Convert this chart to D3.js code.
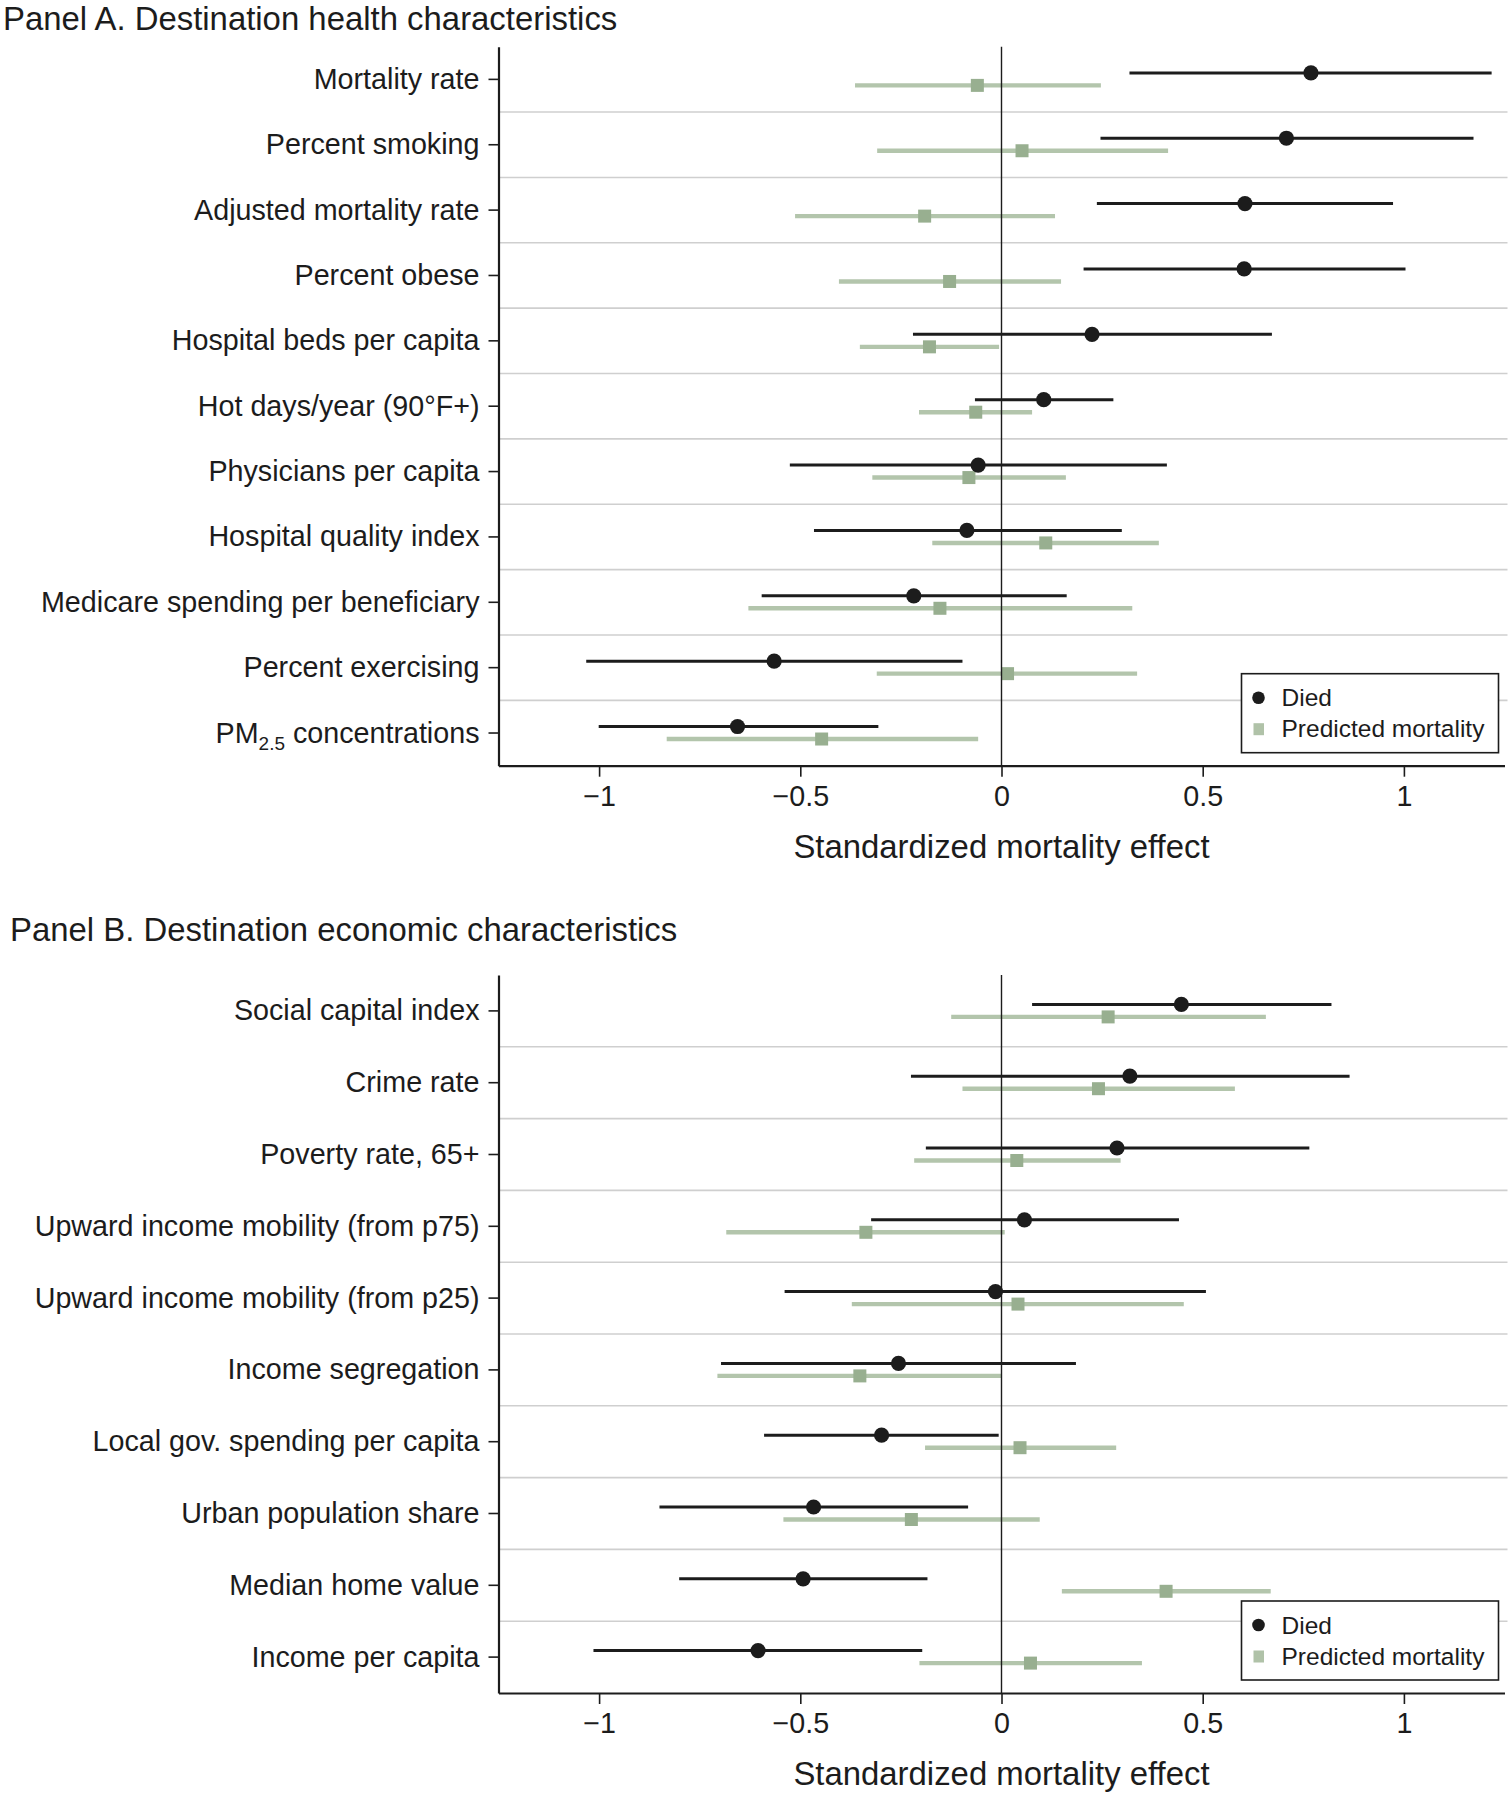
<!DOCTYPE html>
<html>
<head>
<meta charset="utf-8">
<script src="https://cdn.jsdelivr.net/npm/d3@7"></script>
<style>
  html, body { margin: 0; padding: 0; background: #fff; }
  svg { display: block; font-family: "Liberation Sans", Arial, Helvetica, sans-serif; }
</style>
</head>
<body>
<svg id="chart" width="1510" height="1800"></svg>
<script>
// ---------------- DATA ----------------
const healthCats = [
  "Mortality rate", "Percent smoking", "Adjusted mortality rate", "Percent obese",
  "Hospital beds per capita", "Hot days/year (90°F+)", "Physicians per capita",
  "Hospital quality index", "Medicare spending per beneficiary", "Percent exercising",
  "PM2.5 concentrations"
];
const healthDied   = [0.769, 0.708, 0.605, 0.603, 0.225, 0.105, -0.058, -0.086, -0.218, -0.565, -0.656];
const healthDiedLo = [0.318, 0.246, 0.237, 0.204, -0.220, -0.066, -0.526, -0.466, -0.596, -1.032, -1.001];
const healthDiedHi = [1.218, 1.173, 0.973, 1.004, 0.672, 0.278, 0.411, 0.299, 0.162, -0.097, -0.306];
const healthPred   = [-0.060, 0.051, -0.191, -0.129, -0.179, -0.064, -0.081, 0.110, -0.153, 0.015, -0.447];
const healthPredLo = [-0.364, -0.309, -0.513, -0.404, -0.352, -0.205, -0.321, -0.172, -0.629, -0.310, -0.832];
const healthPredHi = [0.247, 0.414, 0.133, 0.148, -0.006, 0.076, 0.160, 0.391, 0.325, 0.337, -0.058];

const econCats = [
  "Social capital index", "Crime rate", "Poverty rate, 65+",
  "Upward income mobility (from p75)", "Upward income mobility (from p25)",
  "Income segregation", "Local gov. spending per capita", "Urban population share",
  "Median home value", "Income per capita"
];
const econDied   = [0.447, 0.319, 0.287, 0.057, -0.015, -0.256, -0.298, -0.467, -0.493, -0.605];
const econDiedLo = [0.076, -0.225, -0.188, -0.324, -0.539, -0.697, -0.590, -0.850, -0.801, -1.014];
const econDiedHi = [0.820, 0.865, 0.765, 0.441, 0.508, 0.185, -0.007, -0.083, -0.184, -0.197];
const econPred   = [0.265, 0.241, 0.038, -0.337, 0.041, -0.352, 0.046, -0.224, 0.409, 0.072];
const econPredLo = [-0.125, -0.097, -0.217, -0.684, -0.372, -0.706, -0.190, -0.542, 0.150, -0.204];
const econPredHi = [0.657, 0.580, 0.296, 0.008, 0.453, 0.000, 0.285, 0.095, 0.669, 0.349];

const xTicks = [-1, -0.5, 0, 0.5, 1];
const xDomain = [-1.25, 1.25];
const axisTitle = "Standardized mortality effect";
const legendLabels = ["Died", "Predicted mortality"];
const panelTitles = ["Panel A. Destination health characteristics", "Panel B. Destination economic characteristics"];

// ---------------- STYLE ----------------
const INK = "#1c1c1c";
const PRED_LINE = "#b3c5ac";
const PRED_SQ = "#98af90";
const LEG_SQ = "#b0c2a8";
const GRID = "#cfcfcf";
const FONT_LABEL = 28.7;
const FONT_TITLE = 32.9;
const FONT_LEG = 24.5;

const svg = d3.select("#chart");
const x = d3.scaleLinear().domain(xDomain).range([498.5, 1504.5]);

function drawPanel(cfg) {
  const { cats, died, diedLo, diedHi, pred, predLo, predHi, top, bottom, title, titleX, titleY } = cfg;
  const g = svg.append("g");
  const y = d3.scaleBand().domain(cats).range([top, bottom]).padding(0);
  const cy = c => y(c) + y.bandwidth() / 2;

  // title
  svg.append("text").attr("x", titleX).attr("y", titleY)
    .attr("font-size", FONT_TITLE).attr("fill", INK).text(title);

  // separators
  g.append("g").selectAll("line").data(cats.slice(1)).join("line")
    .attr("x1", x.range()[0]).attr("x2", x.range()[1] + 3)
    .attr("y1", c => y(c)).attr("y2", c => y(c))
    .attr("stroke", GRID).attr("stroke-width", 1.6);

  const rows = cats.map((c, i) => ({ c, d: died[i], dl: diedLo[i], dh: diedHi[i], p: pred[i], pl: predLo[i], ph: predHi[i] }));

  // predicted CIs
  g.append("g").selectAll("line").data(rows).join("line")
    .attr("x1", r => x(r.pl)).attr("x2", r => x(r.ph))
    .attr("y1", r => cy(r.c) + 6).attr("y2", r => cy(r.c) + 6)
    .attr("stroke", PRED_LINE).attr("stroke-width", 4.4);
  g.append("g").selectAll("rect").data(rows).join("rect")
    .attr("x", r => x(r.p) - 6.5).attr("y", r => cy(r.c) + 6 - 6.5)
    .attr("width", 13).attr("height", 13).attr("fill", PRED_SQ);

  // zero line
  g.append("line").attr("x1", x(0)).attr("x2", x(0)).attr("y1", top).attr("y2", bottom)
    .attr("stroke", INK).attr("stroke-width", 1.4);

  // died CIs
  g.append("g").selectAll("line").data(rows).join("line")
    .attr("x1", r => x(r.dl)).attr("x2", r => x(r.dh))
    .attr("y1", r => cy(r.c) - 6.5).attr("y2", r => cy(r.c) - 6.5)
    .attr("stroke", INK).attr("stroke-width", 3);
  g.append("g").selectAll("circle").data(rows).join("circle")
    .attr("cx", r => x(r.d)).attr("cy", r => cy(r.c) - 6.5).attr("r", 7.6)
    .attr("fill", INK);

  // left axis
  const ya = g.append("g").attr("transform", `translate(${x.range()[0]},0)`)
    .call(d3.axisLeft(y).tickSize(10).tickSizeOuter(0).tickPadding(9));
  ya.attr("font-family", null);
  ya.select(".domain").attr("stroke", INK).attr("stroke-width", 2.2);
  ya.selectAll(".tick line").attr("stroke", INK).attr("stroke-width", 1.6);
  ya.selectAll(".tick text").attr("font-size", FONT_LABEL).attr("fill", INK).attr("dy", "0.33em");
  ya.selectAll(".tick text").filter(d => d.startsWith("PM2.5")).each(function () {
    const t = d3.select(this);
    t.text(null);
    t.append("tspan").text("PM");
    t.append("tspan").attr("font-size", FONT_LABEL * 0.66).attr("dy", 7).text("2.5");
    t.append("tspan").attr("dy", -7).text(" concentrations");
  });

  // bottom axis
  const xa = g.append("g").attr("transform", `translate(0,${bottom})`)
    .call(d3.axisBottom(x).tickValues(xTicks).tickSize(11).tickSizeOuter(0).tickPadding(9)
      .tickFormat(d3.format("")));
  xa.attr("font-family", null);
  xa.select(".domain").attr("stroke", INK).attr("stroke-width", 2.2);
  xa.selectAll(".tick line").attr("stroke", INK).attr("stroke-width", 1.6);
  xa.selectAll(".tick text").attr("font-size", FONT_LABEL).attr("fill", INK);

  // axis title
  g.append("text").attr("x", x(0)).attr("y", bottom + 92).attr("text-anchor", "middle")
    .attr("font-size", FONT_TITLE).attr("fill", INK).text(axisTitle);

  // legend
  const lw = 257, lh = 79;
  const lx = x.range()[1] - 6 - lw, ly = bottom - 13 - lh;
  const lg = g.append("g").attr("transform", `translate(${lx},${ly})`);
  lg.append("rect").attr("width", lw).attr("height", lh).attr("fill", "#fff")
    .attr("stroke", INK).attr("stroke-width", 1.6);
  lg.append("circle").attr("cx", 17).attr("cy", 24).attr("r", 6.3).attr("fill", INK);
  lg.append("rect").attr("x", 12).attr("y", 49.5).attr("width", 10.5).attr("height", 12).attr("fill", LEG_SQ);
  lg.selectAll("text").data(legendLabels).join("text")
    .attr("x", 40).attr("y", (d, i) => 24 + i * 31).attr("dy", "0.35em")
    .attr("font-size", FONT_LEG).attr("fill", INK).text(d => d);
}

drawPanel({
  cats: healthCats, died: healthDied, diedLo: healthDiedLo, diedHi: healthDiedHi,
  pred: healthPred, predLo: healthPredLo, predHi: healthPredHi,
  top: 46.7, bottom: 765.7, title: panelTitles[0], titleX: 3, titleY: 30
});
drawPanel({
  cats: econCats, died: econDied, diedLo: econDiedLo, diedHi: econDiedHi,
  pred: econPred, predLo: econPredLo, predHi: econPredHi,
  top: 975, bottom: 1693, title: panelTitles[1], titleX: 10, titleY: 941
});
</script>
</body>
</html>
